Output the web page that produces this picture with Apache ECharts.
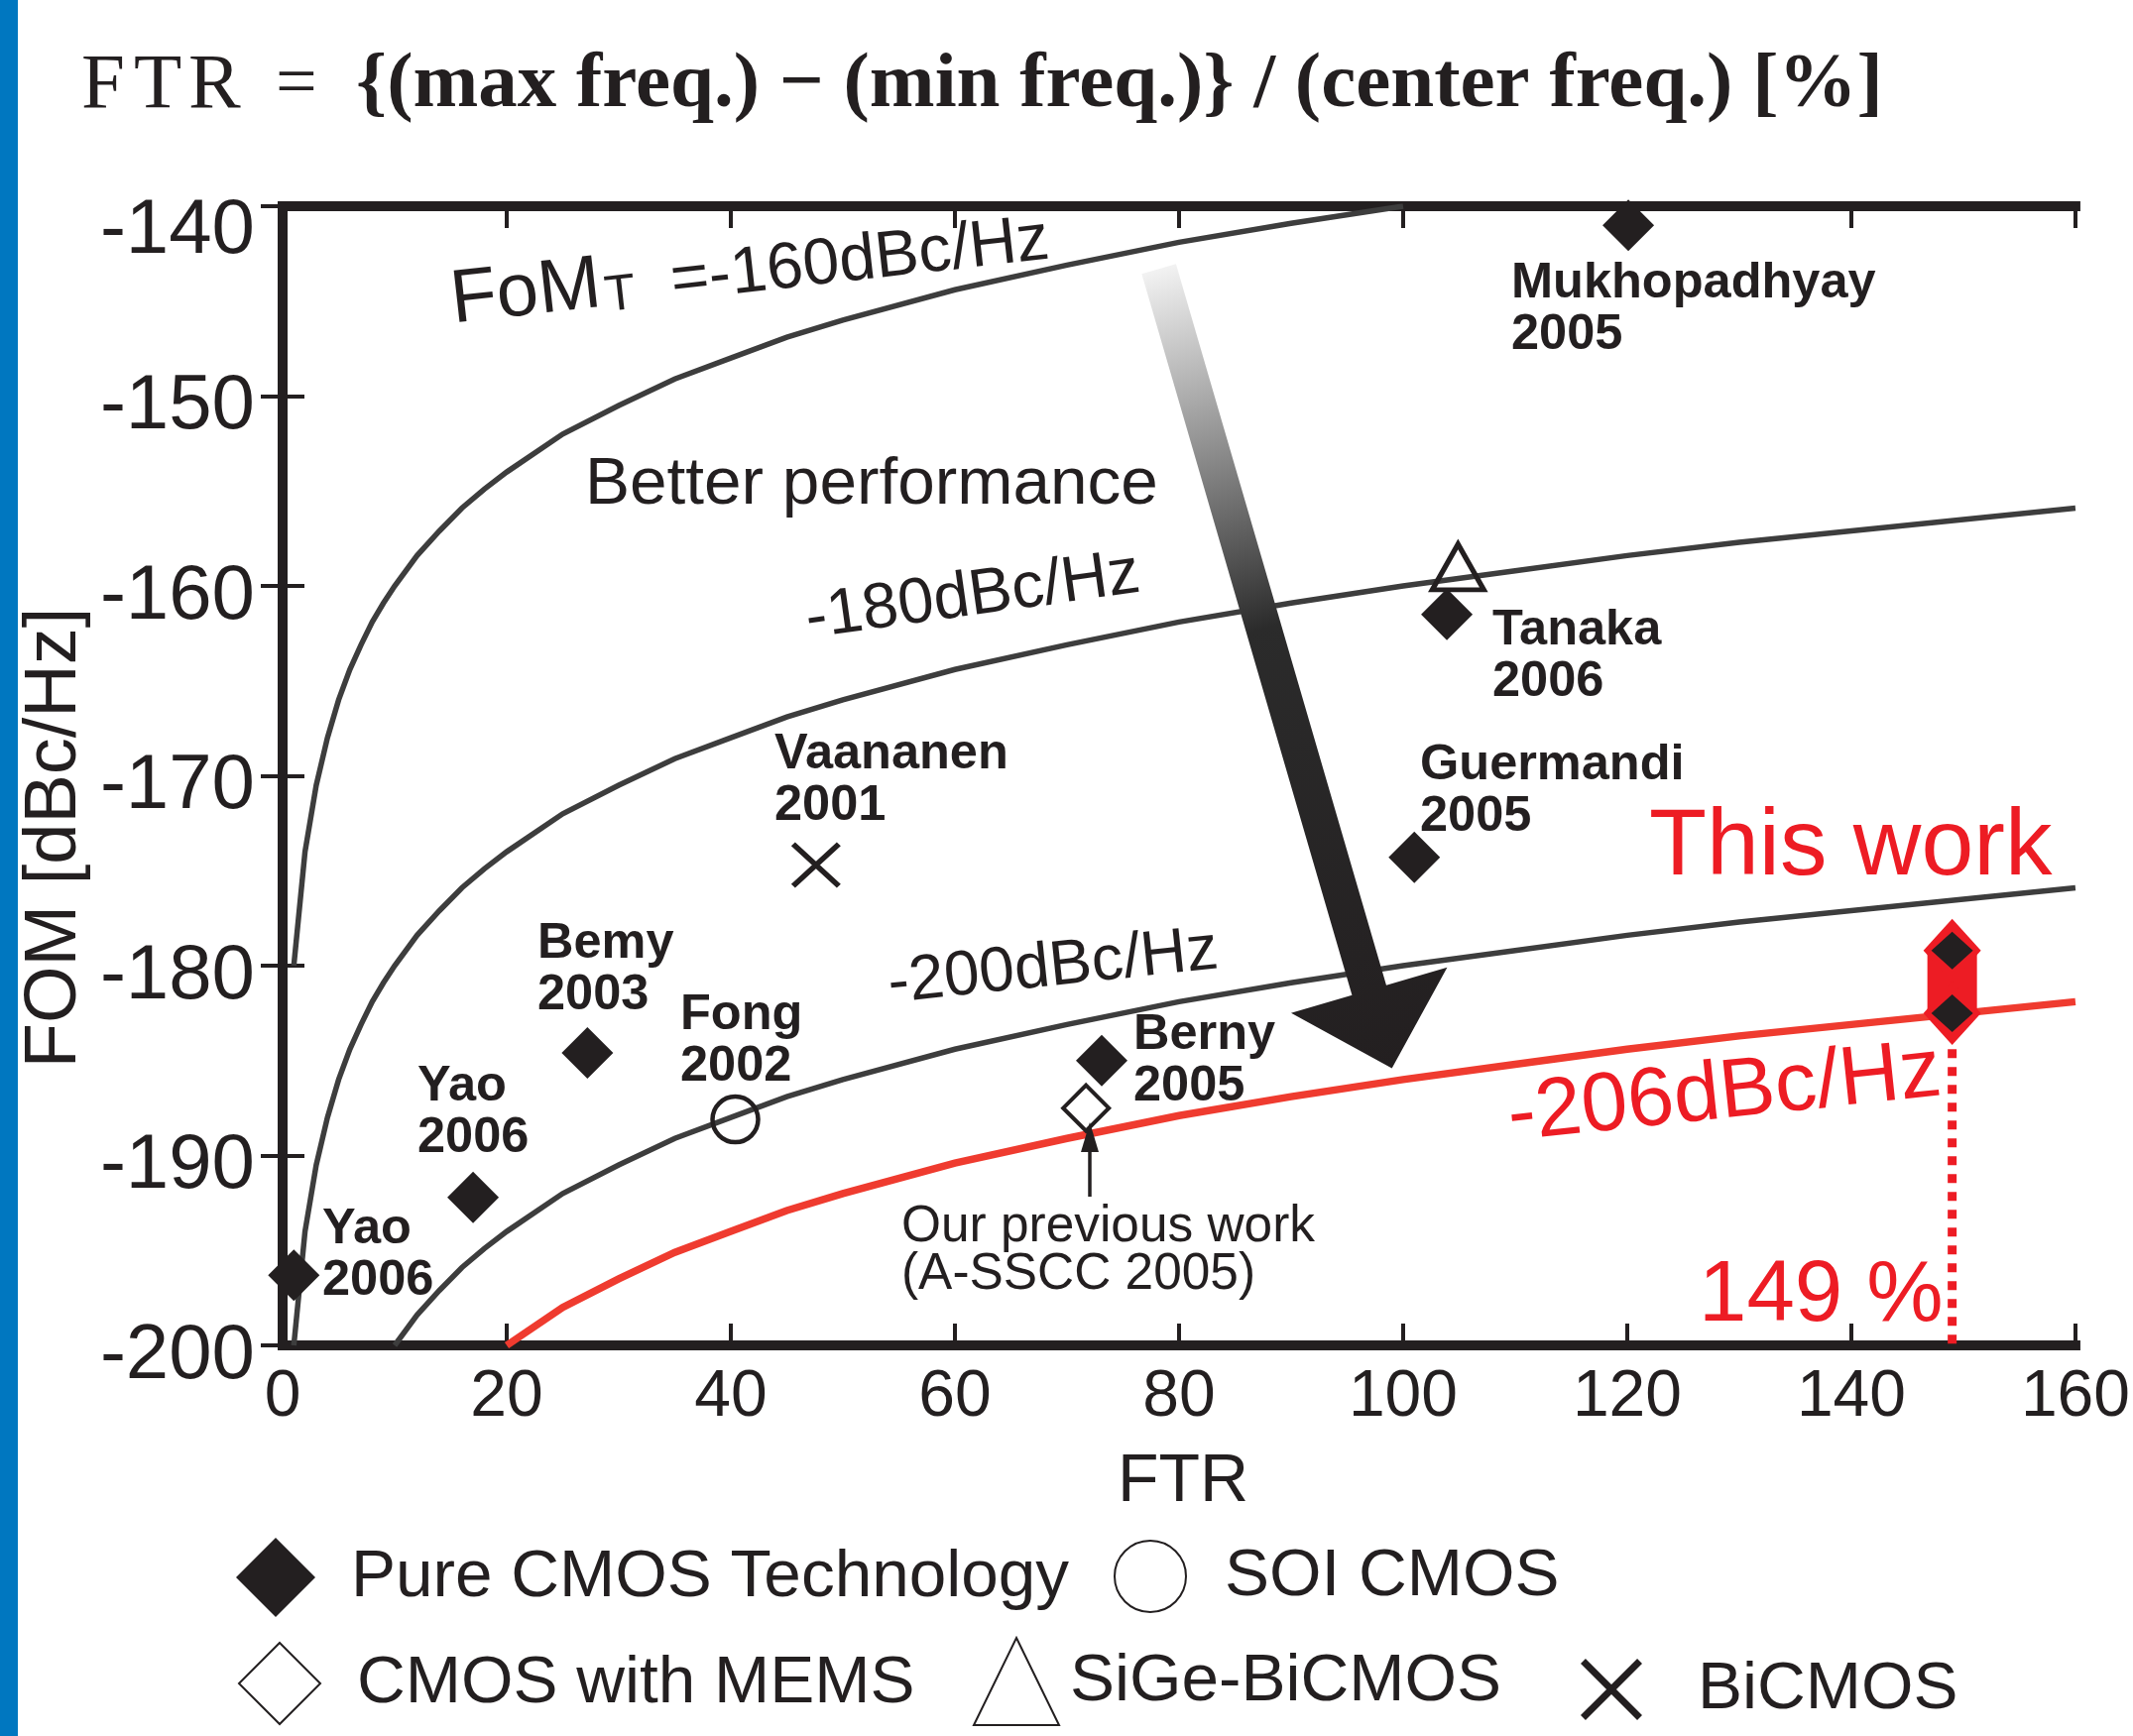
<!DOCTYPE html>
<html>
<head>
<meta charset="utf-8">
<script src="https://cdn.jsdelivr.net/npm/echarts@6/dist/echarts.min.js"></script>
<style>
html,body{margin:0;padding:0;background:#fff;}
#chart{width:2151px;height:1751px;}
</style>
</head>
<body>
<div id="chart"></div>
<script>
// ---------- data ----------
const xTicks = [0, 20, 40, 60, 80, 100, 120, 140, 160];
const yTicks = [-200, -190, -180, -170, -160, -150, -140];

// FoM_T reference curves
const ftr160 = [1,2,3,4,5,6,7,8,9,10,12,14,16,18,20,25,30,35,40,45,50,60,70,80,90,100];
const fom160 = [-180.0,-174.0,-170.5,-168.0,-166.0,-164.4,-163.1,-161.9,-160.9,-160.0,-158.4,-157.1,-155.9,-154.9,-154.0,-152.0,-150.5,-149.1,-148.0,-146.9,-146.0,-144.4,-143.1,-141.9,-140.9,-140.0];
const ftr180 = [1,2,3,4,5,6,7,8,9,10,12,14,16,18,20,25,30,35,40,45,50,60,70,80,90,100,110,120,130,140,150,160];
const fom180 = [-200.0,-194.0,-190.5,-188.0,-186.0,-184.4,-183.1,-181.9,-180.9,-180.0,-178.4,-177.1,-175.9,-174.9,-174.0,-172.0,-170.5,-169.1,-168.0,-166.9,-166.0,-164.4,-163.1,-161.9,-160.9,-160.0,-159.2,-158.4,-157.7,-157.1,-156.5,-155.9];
const ftr200 = [10,12,14,16,18,20,25,30,35,40,45,50,60,70,80,90,100,110,120,130,140,150,160];
const fom200 = [-200.0,-198.4,-197.1,-195.9,-194.9,-194.0,-192.0,-190.5,-189.1,-188.0,-186.9,-186.0,-184.4,-183.1,-181.9,-180.9,-180.0,-179.2,-178.4,-177.7,-177.1,-176.5,-175.9];
const ftr206 = [20,25,30,35,40,45,50,60,70,80,90,100,110,120,130,140,150,160];
const fom206 = [-200.0,-198.0,-196.5,-195.1,-194.0,-192.9,-192.0,-190.4,-189.1,-187.9,-186.9,-186.0,-185.2,-184.4,-183.7,-183.1,-182.5,-181.9];

// published oscillators
const pureNames = ['Yao 2006', 'Yao 2006', 'Bemy 2003', 'Berny 2005', 'Guermandi 2005', 'Tanaka 2006', 'Mukhopadhyay 2005'];
const pureFTR = [1.0, 17.0, 27.2, 73.1, 101.0, 103.9, 120.1];
const pureFOM = [-196.3, -192.2, -184.6, -185.0, -174.3, -161.5, -141.0];
const soiFTR = [40.4];       // Fong 2002
const soiFOM = [-188.1];
const memsFTR = [71.7];      // Our previous work (A-SSCC 2005)
const memsFOM = [-187.5];
const sigeFTR = [104.9];
const sigeFOM = [-159.0];
const bicmosFTR = [47.6];    // Vaananen 2001
const bicmosFOM = [-174.7];
const thisFTR = [149, 149];  // This work
const thisFOM = [-179.2, -182.5];
const ftrFloor = [-200];

// "Better performance" arrow (data coordinates: from, to)
const arrowFrom = [78.2, -143.3];
const arrowTo = [99.0, -185.4];

// ---------- helpers ----------
const zip = (xs, ys) => xs.map((x, i) => [x, ys[i]]);
const INK = '#231F20';
const GRAY = '#3d3d3d';
const RED = '#ED1C24';
const REDLINE = '#EF3B2F';
const SANS = "'Liberation Sans', Arial, Helvetica, sans-serif";
const SERIF = "'Liberation Serif', 'Times New Roman', serif";
const xPath = 'path://M0,0.8L0.8,0L10,9.2L9.2,10Z M9.2,0L10,0.8L0.8,10L0,9.2Z';

function curve(name, xs, ys, color, width, z) {
  return {
    name: name, type: 'line', data: zip(xs, ys), showSymbol: false, symbol: 'none',
    lineStyle: { color: color, width: width, join: 'miter', opacity: 1 }, z: z, silent: true, animation: false
  };
}

const axisCommon = {
  type: 'value', min: 0, max: 160, interval: 20,
  axisLine: { show: true, lineStyle: { color: INK, width: 10, cap: 'square' } },
  axisTick: { show: true, inside: true, length: 22, lineStyle: { color: INK, width: 4 } },
  splitLine: { show: false }
};

function boldLabel(text, x, y) {
  return { type: 'text', x: x, y: y, z: 30, style: {
    text: text, fill: INK, fontSize: 50.5, fontWeight: 'bold', fontFamily: SANS,
    lineHeight: 52, align: 'left', verticalAlign: 'middle' } };
}
function plainText(text, x, y, size, color, opts) {
  const o = Object.assign({ align: 'left', rotation: 0, weight: 'normal', family: SANS, lineHeight: undefined }, opts || {});
  return { type: 'text', x: x, y: y, z: 30, rotation: o.rotation, style: {
    text: text, fill: color, fontSize: size, fontFamily: o.family, fontWeight: o.weight,
    lineHeight: o.lineHeight, align: o.align, verticalAlign: 'middle' } };
}
const deg = d => d * Math.PI / 180;

const graphics = [
  { type: 'rect', shape: { x: 0, y: 0, width: 18, height: 1751 }, style: { fill: '#0077C0' }, z: 1 },
  // title
  plainText('F', 82, 87, 79, INK, { family: SERIF }),
  plainText('T', 135, 87, 79, INK, { family: SERIF }),
  plainText('R', 190, 87, 79, INK, { family: SERIF }),
  plainText('=', 278, 87, 74, INK, { family: SERIF }),
  plainText('{(max freq.) \u2212 (min freq.)} / (center freq.) [%]', 359, 87, 79, INK, { family: SERIF, weight: 'bold' }),
  // axis names
  plainText('FTR', 1193, 1495, 68, INK, { align: 'center' }),
  plainText('FOM [dBc/Hz]', 56, 845, 74, INK, { align: 'center', rotation: deg(90) }),
  // curve labels
  { type: 'text', x: 756, y: 271, z: 30, rotation: deg(6.4), style: {
      text: '{a|FoM}{s|T}{b|  =-160dBc/Hz}', align: 'center', verticalAlign: 'middle', fill: INK,
      rich: { a: { fontSize: 76, fontFamily: SANS, fill: INK, verticalAlign: 'bottom' },
              s: { fontSize: 51, fontFamily: SANS, fill: INK, verticalAlign: 'bottom', padding: [0, 0, 0, 3] },
              b: { fontSize: 66, fontFamily: SANS, fill: INK, verticalAlign: 'bottom' } } } },
  plainText('-180dBc/Hz', 981, 602, 65, INK, { align: 'center', rotation: deg(8) }),
  plainText('-200dBc/Hz', 1062, 976, 64, INK, { align: 'center', rotation: deg(6) }),
  plainText('-206dBc/Hz', 1739, 1104, 84, RED, { align: 'center', rotation: deg(6) }),
  plainText('Better performance', 590, 489, 67.5, INK),
  plainText('This work', 1663, 856, 95, RED),
  plainText('149 %', 1713, 1308, 87, RED),
  // point labels
  boldLabel('Mukhopadhyay\n2005', 1524, 312),
  boldLabel('Tanaka\n2006', 1505, 662),
  boldLabel('Guermandi\n2005', 1432, 798),
  boldLabel('Vaananen\n2001', 781, 787),
  boldLabel('Bemy\n2003', 542, 978),
  boldLabel('Fong\n2002', 686, 1050),
  boldLabel('Yao\n2006', 421, 1122),
  boldLabel('Yao\n2006', 325, 1266),
  boldLabel('Berny\n2005', 1143, 1070),
  plainText('Our previous work\n(A-SSCC 2005)', 909, 1262, 51.4, INK, { lineHeight: 48 }),
  // small arrow to previous work
  { type: 'line', z: 30, shape: { x1: 1099, y1: 1207, x2: 1099, y2: 1155 }, style: { stroke: INK, lineWidth: 3.5 } },
  { type: 'polygon', z: 30, shape: { points: [[1099, 1132], [1090, 1162], [1108, 1162]] }, style: { fill: INK } }
];

function legendItem(name, left, top, w, h, pad) {
  return { data: [name], left: left, top: top, padding: 0, itemWidth: w, itemHeight: h,
    selectedMode: false, orient: 'horizontal',
    textStyle: { fontSize: 67.5, fontFamily: SANS, color: INK, padding: [0, 0, 0, pad] } };
}

const option = {
  animation: false,
  backgroundColor: '#ffffff',
  grid: { left: 285, top: 208, width: 1815, height: 1149, containLabel: false },
  xAxis: [
    Object.assign({}, axisCommon, { position: 'bottom',
      axisLabel: { show: true, fontSize: 66, fontFamily: SANS, color: INK, margin: 20 } }),
    Object.assign({}, axisCommon, { position: 'top', axisLabel: { show: false } })
  ],
  yAxis: [
    Object.assign({}, axisCommon, { min: -200, max: -140, interval: 10, position: 'left',
      axisLabel: { show: true, margin: 28, color: INK,
        formatter: v => (v === -140 ? '{t|' + v + '}' : '{n|' + v + '}'),
        rich: { t: { fontSize: 78, fontFamily: SANS, color: INK, padding: [50, 0, 0, 0] },
                n: { fontSize: 78, fontFamily: SANS, color: INK, padding: [22, 0, 0, 0] } } } }),
    Object.assign({}, axisCommon, { min: -200, max: -140, interval: 10, position: 'right', axisLabel: { show: false } })
  ],
  legend: [
    legendItem('Pure CMOS Technology', 238, 1551, 80, 80, 31),
    legendItem('SOI CMOS', 1123, 1553, 72, 72, 34),
    legendItem('CMOS with MEMS', 240, 1656, 82, 82, 32),
    legendItem('SiGe-BiCMOS', 981, 1651, 86, 88, 6),
    legendItem('BiCMOS', 1594, 1670, 62, 62, 51)
  ],
  graphic: { elements: graphics },
  series: [
    curve('FoMT -160', ftr160, fom160, GRAY, 5.5, 2),
    curve('FoMT -180', ftr180, fom180, GRAY, 5.5, 2),
    curve('FoMT -200', ftr200, fom200, GRAY, 5.5, 2),
    curve('FoMT -206', ftr206, fom206, REDLINE, 7.5, 2),
    { name: 'Pure CMOS Technology', type: 'scatter', symbol: 'diamond', symbolSize: [52, 52], clip: false,
      itemStyle: { color: INK, opacity: 1 }, data: zip(pureFTR, pureFOM), z: 6 },
    { name: 'SOI CMOS', type: 'scatter', symbol: 'circle', symbolSize: 46, clip: false,
      itemStyle: { color: 'rgba(255,255,255,0)', borderColor: INK, borderWidth: 4.5, opacity: 1 }, data: zip(soiFTR, soiFOM), z: 6 },
    { name: 'CMOS with MEMS', type: 'scatter', symbol: 'diamond', symbolSize: [46, 46], clip: false,
      itemStyle: { color: '#ffffff', borderColor: INK, borderWidth: 4, opacity: 1 }, data: zip(memsFTR, memsFOM), z: 6 },
    { name: 'SiGe-BiCMOS', type: 'scatter', symbol: 'triangle', symbolSize: [52, 46], clip: false,
      itemStyle: { color: 'rgba(255,255,255,0)', borderColor: INK, borderWidth: 5, opacity: 1 }, data: zip(sigeFTR, sigeFOM), z: 6 },
    { name: 'BiCMOS', type: 'scatter', symbol: xPath, symbolSize: [50, 46], clip: false,
      itemStyle: { color: INK, opacity: 1 }, data: zip(bicmosFTR, bicmosFOM), z: 6 },
    // This work: red band, red outlines, black diamonds, dotted drop line
    { name: 'This work band', type: 'line', data: zip(thisFTR, thisFOM), symbol: 'none', showSymbol: false,
      lineStyle: { color: RED, width: 50, cap: 'butt', opacity: 1 }, z: 7, silent: true },
    { name: 'This work outline', type: 'scatter', symbol: 'diamond', symbolSize: [58, 64], clip: false,
      itemStyle: { color: RED, opacity: 1 }, data: zip(thisFTR, thisFOM), z: 8 },
    { name: 'This work', type: 'scatter', symbol: 'diamond', symbolSize: [42, 38], clip: false,
      itemStyle: { color: INK, opacity: 1 }, data: zip(thisFTR, thisFOM), z: 9 },
    { name: 'This work FTR', type: 'line', symbol: 'none', showSymbol: false,
      data: [[thisFTR[1], thisFOM[1]], [thisFTR[1], ftrFloor[0]]].map((p, i) => i === 0 ? [p[0], p[1] - 1.9] : p),
      lineStyle: { color: RED, width: 9, type: [9, 9], opacity: 1 }, z: 7, silent: true }
  ]
};

const chart = echarts.init(document.getElementById('chart'), null, { renderer: 'canvas', width: 2151, height: 1751 });
chart.setOption(option);

// arrow built from data coordinates
const p0 = chart.convertToPixel({ gridIndex: 0 }, arrowFrom);
const p1 = chart.convertToPixel({ gridIndex: 0 }, arrowTo);
const dx = p1[0] - p0[0], dy = p1[1] - p0[1];
const len = Math.sqrt(dx * dx + dy * dy);
const ux = dx / len, uy = dy / len, nx = -uy, ny = ux;
const shaftHalf = 18, headHalf = 82, headLen = 82;
const bx = p1[0] - ux * headLen, by = p1[1] - uy * headLen;
const pts = [
  [p0[0] + nx * shaftHalf, p0[1] + ny * shaftHalf],
  [bx + nx * shaftHalf, by + ny * shaftHalf],
  [bx + nx * headHalf, by + ny * headHalf],
  [p1[0], p1[1]],
  [bx - nx * headHalf, by - ny * headHalf],
  [bx - nx * shaftHalf, by - ny * shaftHalf],
  [p0[0] - nx * shaftHalf, p0[1] - ny * shaftHalf]
];
chart.setOption({ graphic: { elements: [{
  id: 'bigArrow', type: 'polygon', z: 20, shape: { points: pts },
  style: { fill: { type: 'linear', global: true, x: p0[0], y: p0[1], x2: p1[0], y2: p1[1],
    colorStops: [{ offset: 0, color: '#f2f2f2' }, { offset: 0.45, color: '#2b2b2b' }, { offset: 1, color: INK }] } }
}] } });
</script>
</body>
</html>
